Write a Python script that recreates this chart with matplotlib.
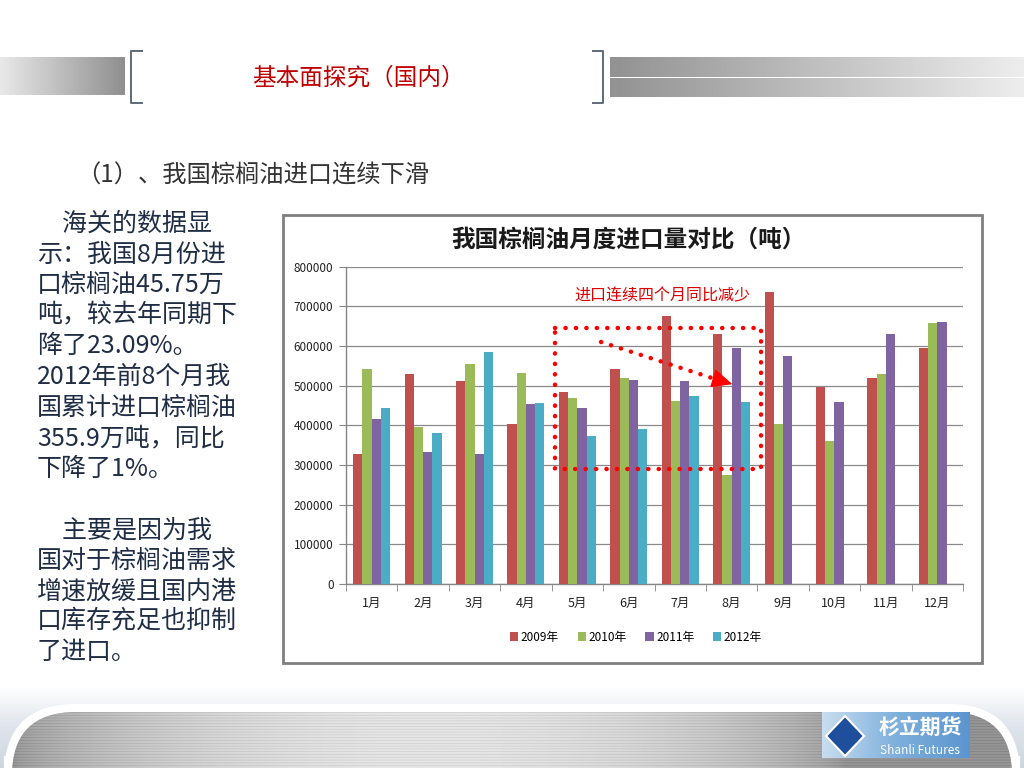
"""Slide recreation: monthly palm oil imports of China, 2009-2012 grouped bars."""

import numpy as np
import matplotlib

matplotlib.use("Agg")
import matplotlib.pyplot as plt
from matplotlib.colors import LinearSegmentedColormap
from matplotlib.patches import Rectangle, FancyBboxPatch, Polygon

plt.rcParams["font.family"] = ["Noto Sans CJK SC", "DejaVu Sans"]

MONTHS = ["1月", "2月", "3月", "4月", "5月", "6月", "7月", "8月", "9月", "10月", "11月", "12月"]
Y2009 = [327000, 529000, 511000, 404000, 485000, 541000, 675000, 630000, 737000, 497000, 520000, 594000]
Y2010 = [541000, 396000, 555000, 532000, 470000, 520000, 461000, 276000, 404000, 360000, 529000, 657000]
Y2011 = [416000, 334000, 327000, 455000, 444000, 514000, 512000, 595000, 574000, 458000, 630000, 660000]
Y2012 = [444000, 381000, 586000, 457000, 372000, 392000, 473000, 458000]
SERIES = ["2009年", "2010年", "2011年", "2012年"]
COLORS = ["#C0504D", "#9BBB59", "#8064A2", "#4BACC6"]

YTICKS = [0, 100000, 200000, 300000, 400000, 500000, 600000, 700000, 800000]

LEFT_TEXT = [
    "　海关的数据显",
    "示：我国8月份进",
    "口棕榈油45.75万",
    "吨，较去年同期下",
    "降了23.09%。",
    "2012年前8个月我",
    "国累计进口棕榈油",
    "355.9万吨，同比",
    "下降了1%。",
    "",
    "　主要是因为我",
    "国对于棕榈油需求",
    "增速放缓且国内港",
    "口库存充足也抑制",
    "了进口。",
]

W, H = 1024, 768
fig = plt.figure(figsize=(W / 100, H / 100), dpi=100)
fig.patch.set_facecolor("white")

# ---- background / decoration layer in pixel coordinates ----
bg = fig.add_axes([0, 0, 1, 1], zorder=0)
bg.set_xlim(0, W)
bg.set_ylim(H, 0)
bg.axis("off")

# header gradient bars (left: light -> dark, right: dark -> light)
grad = np.linspace(0, 1, 256).reshape(1, -1)
bg.imshow(grad[:, ::-1], cmap="gray", vmin=-1.6, vmax=1.25, extent=[0, 125, 95, 57], aspect="auto", zorder=1)
bg.imshow(grad, cmap="gray", vmin=-1.6, vmax=1.2, extent=[610, W, 77, 57], aspect="auto", zorder=1)
bg.imshow(grad, cmap="gray", vmin=-1.6, vmax=1.2, extent=[610, W, 97, 78.5], aspect="auto", zorder=1)

# brackets
bcol = "#5c6b78"
bg.plot([142, 131, 131, 142], [51, 51, 103, 103], color=bcol, lw=1.4, zorder=2)
bg.plot([593, 603, 603, 593], [51, 51, 103, 103], color=bcol, lw=1.4, zorder=2)

bg.text(358, 78, "基本面探究（国内）", color="#C00000", fontsize=17, ha="center", va="center", zorder=3)
bg.text(76, 176, "（1）、我国棕榈油进口连续下滑", color="#333333", fontsize=17.5, ha="left", va="center", zorder=3)

# left paragraph
for i, line in enumerate(LEFT_TEXT):
    if line:
        bg.text(37, 224 + i * 30.6, line, color="#1f2d45", fontsize=18, ha="left", va="center", zorder=3)

# chart frame
bg.add_patch(Rectangle((283, 215), 699, 448, facecolor="white", edgecolor="#7f7f7f", lw=2, zorder=1))
bg.text(628, 240, "我国棕榈油月度进口量对比（吨）", fontsize=17, fontweight="bold",
        color="#1a1a1a", ha="center", va="center", zorder=3)

# footer
foot_cmap = LinearSegmentedColormap.from_list("foot", ["#ffffff", "#dfe5ec", "#cdd6e0"])
foot_bg = np.linspace(0, 1, 64).reshape(-1, 1)
bg.imshow(foot_bg, cmap=foot_cmap, extent=[0, W, H, 686], aspect="auto", zorder=1)
outer = FancyBboxPatch((6, 706), W - 12, 120, boxstyle="round,pad=0,rounding_size=70",
                       facecolor="white", edgecolor="white", lw=3, zorder=2)
bg.add_patch(outer)
inner = FancyBboxPatch((12, 712), W - 24, 120, boxstyle="round,pad=0,rounding_size=64",
                       facecolor="#cccccc", edgecolor="none", zorder=3)
bg.add_patch(inner)
rows = np.arange(60)
cols = np.linspace(0, 1, 400)
stripe = 0.07 * np.where(rows % 3 == 0, 1.0, 0.0)[:, None]
horiz = 0.6 + 0.32 * np.sin(np.pi * np.clip(cols * 1.2, 0, 1))[None, :] ** 0.6
img = bg.imshow(horiz - stripe, cmap="gray", vmin=0, vmax=1.02, extent=[12, W - 12, H, 712],
                aspect="auto", zorder=4)
img.set_clip_path(inner)

# logo
logo_cmap = LinearSegmentedColormap.from_list("logo", ["#c9def0", "#7fb0dc", "#5b95cf"])
bg.imshow(grad, cmap=logo_cmap, extent=[822, 970, 758, 712], aspect="auto", zorder=5)
bg.add_patch(Polygon([[845, 716], [864, 736], [845, 756], [826, 736]], closed=True,
                     facecolor="#1f4e9c", edgecolor="white", lw=1.5, zorder=6))
bg.text(920, 728, "杉立期货", color="white", fontsize=15, fontweight="bold", ha="center", va="center", zorder=6)
bg.text(920, 750, "Shanli Futures", color="white", fontsize=8.5, ha="center", va="center", zorder=6)

# ---- chart axes ----
ax_left, ax_right = 346, 963
ax_top, ax_bottom = 266.7, 584
ax = fig.add_axes([ax_left / W, 1 - ax_bottom / H, (ax_right - ax_left) / W, (ax_bottom - ax_top) / H], zorder=2)
ax.set_facecolor("none")

x = np.arange(len(MONTHS))
bw = 0.18
handles = []
for k, (vals, col, name) in enumerate(zip([Y2009, Y2010, Y2011, Y2012], COLORS, SERIES)):
    xs = x[: len(vals)] + (k - 1.5) * bw
    h = ax.bar(xs, vals, width=bw, color=col, label=name, zorder=3)
    handles.append(h)

ax.set_xlim(-0.5, len(MONTHS) - 0.5)
ax.set_ylim(0, 800000)
ax.set_yticks(YTICKS)
ax.set_yticklabels([str(v) for v in YTICKS], fontsize=8.5, color="#222222")
ax.set_xticks(x)
ax.set_xticklabels(MONTHS, fontsize=9, color="#222222")
ax.set_xticks(np.arange(-0.5, len(MONTHS)), minor=True)
ax.tick_params(axis="x", which="major", length=0, pad=9)
ax.tick_params(axis="x", which="minor", length=5, color="#868686", direction="out")
ax.tick_params(axis="y", length=5, color="#868686", direction="out", pad=4)
ax.grid(axis="y", color="#8a8a8a", lw=0.9, zorder=0)
ax.set_axisbelow(True)
for side in ["top", "right"]:
    ax.spines[side].set_visible(False)
for side in ["left", "bottom"]:
    ax.spines[side].set_color("#868686")
    ax.spines[side].set_linewidth(1.0)


def px2data(px, py):
    return (px - ax_left) / ((ax_right - ax_left) / 12) - 0.5, (ax_bottom - py) / ((ax_bottom - ax_top) / 8) * 100000


# dotted highlight box and arrow
dots = dict(color="#FF0000", lw=3.2, linestyle=(0, (0.05, 2.3)), dash_capstyle="round", zorder=5, clip_on=False)
(x0, y0), (x1, y1) = px2data(555, 328), px2data(761, 469)
ax.plot([x0, x1, x1, x0, x0], [y0, y0, y1, y1, y0], **dots)
(sx, sy), (ex, ey), (tx, ty) = px2data(601, 342), px2data(712, 378), px2data(735, 385)
ax.plot([sx, ex], [sy, ey], **dots)
ax.annotate("", xy=(tx, ty), xytext=(ex, ey),
            arrowprops=dict(arrowstyle="-|>,head_length=1.3,head_width=0.6", color="#FF0000", lw=1.0),
            zorder=6)
ax.text(*px2data(574, 296), "进口连续四个月同比减少", color="#E00000", fontsize=11.5, ha="left", va="center", zorder=6)

ax.legend(handles=handles, loc="center", bbox_to_anchor=(636 / W, 1 - 637 / H), bbox_transform=fig.transFigure,
          ncol=4, frameon=False, fontsize=8.5, handlelength=0.7, handleheight=0.7, handletextpad=0.2,
          columnspacing=1.6)

fig.savefig("out.png", dpi=100, facecolor="white")
